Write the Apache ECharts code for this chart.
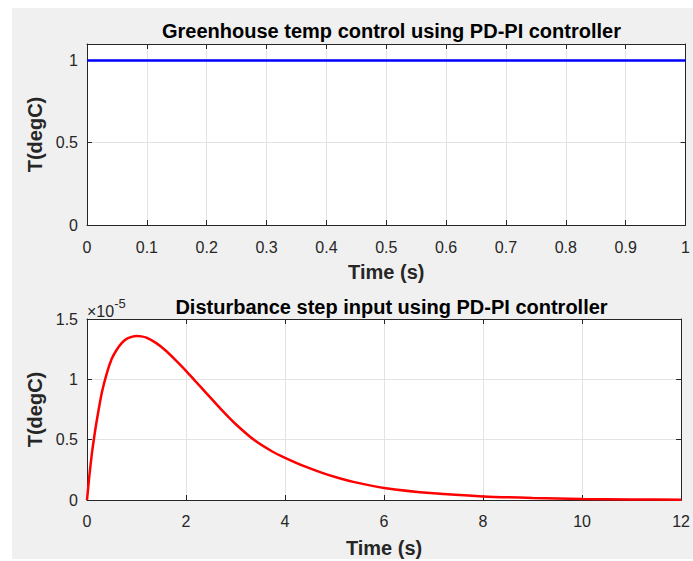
<!DOCTYPE html>
<html>
<head>
<meta charset="utf-8">
<script src="https://cdn.jsdelivr.net/npm/echarts@6/dist/echarts.min.js"></script>
<style>
  html, body { margin: 0; padding: 0; background: #fff; }
  #main { width: 693px; height: 561px; }
</style>
</head>
<body>
<div id="main"></div>
<script>
// top plot: temperature step response
const tempTime = [0, 0.1, 0.2, 0.3, 0.4, 0.5, 0.6, 0.7, 0.8, 0.9, 1];
const tempValue = [1, 1, 1, 1, 1, 1, 1, 1, 1, 1, 1];

// bottom plot: disturbance response, values in units of 1e-5
const distTime = [0, 0.05, 0.1, 0.15, 0.2, 0.3, 0.4, 0.5, 0.6, 0.7, 0.8, 0.9, 1.0, 1.1, 1.2, 1.4, 1.6, 1.8, 2.0, 2.2, 2.4, 2.7, 3.0, 3.4, 3.75, 4.0, 4.4, 4.75, 5.1, 5.4, 6.0, 7, 8, 9, 10, 11, 12];
const distValueE5 = [0, 0.21, 0.39, 0.535, 0.665, 0.89, 1.05, 1.17, 1.245, 1.30, 1.335, 1.352, 1.36, 1.356, 1.345, 1.30, 1.235, 1.155, 1.07, 0.98, 0.89, 0.755, 0.63, 0.49, 0.40, 0.35, 0.278, 0.225, 0.18, 0.148, 0.10, 0.055, 0.03, 0.017, 0.009, 0.005, 0.003];

const topTicks = { min: 0, max: 1, interval: 0.1 };
const bottomTicks = { min: 0, max: 12, interval: 2 };

const FONT = '"Liberation Sans", Arial, Helvetica, sans-serif';
const AX = '#262626';
const GRIDC = '#e3e3e3';

const myChart = echarts.init(document.getElementById('main'), null, { renderer: 'svg' });

function zip(xs, ys) {
  return xs.map((x, i) => [x, ys[i]]);
}

function mainX(gridIndex, t, margin, gap) {
  return {
    type: 'value', gridIndex: gridIndex, min: t.min, max: t.max, interval: t.interval,
    position: 'bottom',
    axisLine: { show: true, onZero: false, lineStyle: { color: AX, width: 1 } },
    axisTick: { show: true, inside: true, length: 5, lineStyle: { color: AX } },
    axisLabel: { color: AX, fontSize: 16, fontFamily: FONT, margin: margin },
    splitLine: { show: true, lineStyle: { color: GRIDC, width: 1 } },
    name: 'Time (s)', nameLocation: 'middle', nameGap: gap,
    nameTextStyle: { color: AX, fontSize: 20, fontWeight: 'bold', fontFamily: FONT }
  };
}
function boxX(gridIndex, t) {
  return {
    type: 'value', gridIndex: gridIndex, min: t.min, max: t.max, interval: t.interval,
    position: 'top',
    axisLine: { show: true, onZero: false, lineStyle: { color: AX, width: 1 } },
    axisTick: { show: true, inside: true, length: 5, lineStyle: { color: AX } },
    axisLabel: { show: false }, splitLine: { show: false }
  };
}
function mainY(gridIndex, max, showMax) {
  return {
    type: 'value', gridIndex: gridIndex, min: 0, max: max, interval: 0.5,
    position: 'left',
    axisLine: { show: true, onZero: false, lineStyle: { color: AX, width: 1 } },
    axisTick: { show: true, inside: true, length: 5, lineStyle: { color: AX } },
    axisLabel: { color: AX, fontSize: 16, fontFamily: FONT, margin: 9, showMaxLabel: showMax },
    splitLine: { show: true, lineStyle: { color: GRIDC, width: 1 } },
    name: 'T(degC)', nameLocation: 'middle', nameGap: 40,
    nameTextStyle: { color: AX, fontSize: 20, fontWeight: 'bold', fontFamily: FONT }
  };
}
function boxY(gridIndex, max) {
  return {
    type: 'value', gridIndex: gridIndex, min: 0, max: max, interval: 0.5,
    position: 'right',
    axisLine: { show: true, onZero: false, lineStyle: { color: AX, width: 1 } },
    axisTick: { show: true, inside: true, length: 5, lineStyle: { color: AX } },
    axisLabel: { show: false }, splitLine: { show: false }
  };
}

myChart.setOption({
  animation: false,
  backgroundColor: '#fff',
  graphic: [
    { type: 'rect', z: -10, shape: { x: 12, y: 8, width: 681, height: 551 }, style: { fill: '#f0f0f0' } },
    {
      type: 'text', left: 87, top: 297, z: 10,
      style: {
        text: '{a|×10}{b|-5}', fill: AX,
        rich: {
          a: { fontSize: 16, fontFamily: FONT, color: '#404040', verticalAlign: 'bottom', padding: [6, 0, 0, 0] },
          b: { fontSize: 13, fontFamily: FONT, color: '#404040', verticalAlign: 'top' }
        }
      }
    }
  ],
  title: [
    {
      text: 'Greenhouse temp control using PD-PI controller', left: 386.5, top: 16, textAlign: 'center',
      textStyle: { color: '#000', fontSize: 20, fontWeight: 'bold', fontFamily: FONT }
    },
    {
      text: 'Disturbance step input using PD-PI controller', left: 386.5, top: 292, textAlign: 'center',
      textStyle: { color: '#000', fontSize: 20, fontWeight: 'bold', fontFamily: FONT }
    }
  ],
  grid: [
    { left: 87, top: 44, width: 599, height: 181, show: true, backgroundColor: '#fff', borderWidth: 0 },
    { left: 87, top: 319, width: 599, height: 181, show: true, backgroundColor: '#fff', borderWidth: 0 }
  ],
  xAxis: [
    mainX(0, topTicks, 14, 37), boxX(0, topTicks),
    mainX(1, bottomTicks, 13, 38), boxX(1, bottomTicks)
  ],
  yAxis: [
    mainY(0, 1.1, false), boxY(0, 1.1),
    mainY(1, 1.5, true), boxY(1, 1.5)
  ],
  series: [
    {
      type: 'line', xAxisIndex: 0, yAxisIndex: 0, data: zip(tempTime, tempValue),
      showSymbol: false, lineStyle: { color: '#0000ff', width: 2.5 }
    },
    {
      type: 'line', xAxisIndex: 2, yAxisIndex: 2, data: zip(distTime, distValueE5),
      showSymbol: false, smooth: 0.25, lineStyle: { color: '#ff0000', width: 2.5 }
    }
  ]
});
</script>
</body>
</html>
